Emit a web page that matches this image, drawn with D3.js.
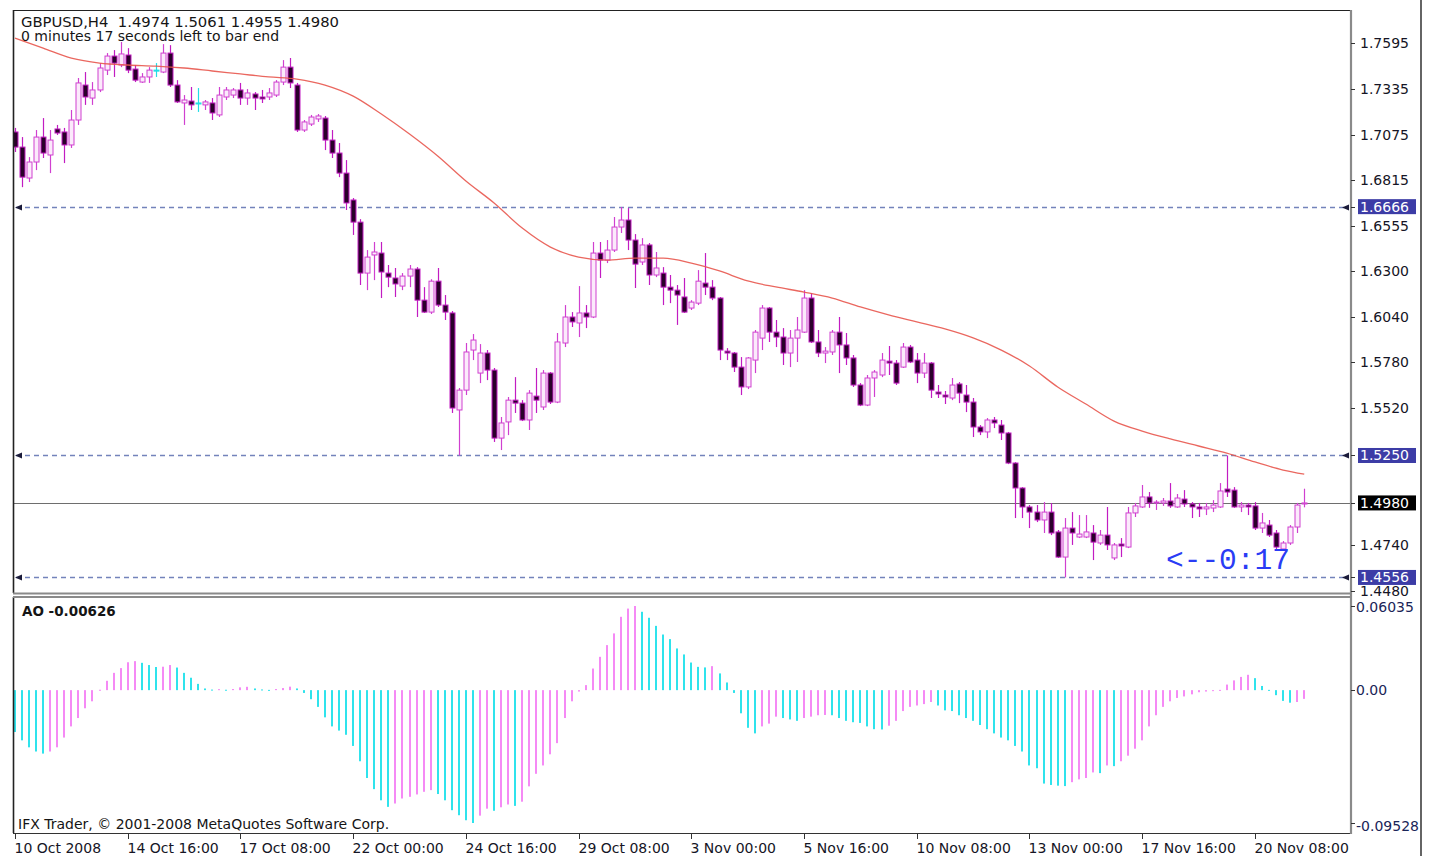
<!DOCTYPE html>
<html>
<head>
<meta charset="utf-8">
<script src="https://cdn.jsdelivr.net/npm/d3@7"></script>
<style>
  html, body { margin: 0; padding: 0; background: #ffffff; }
  svg { display: block; font-family: "DejaVu Sans", Verdana, sans-serif; }
</style>
</head>
<body>
<svg id="chart" width="1429" height="856"></svg>
<script>
// GBPUSD H4 candles, oldest first (10 Oct 2008 00:00 onwards)
const barOpen = [
1.7091,1.7005,1.6829,1.6920,1.7062,1.6960,1.7108,1.7091,1.7017,1.7159,
1.7358,1.7284,1.7330,1.7443,1.7523,1.7472,1.7529,1.7449,1.7375,1.7404,
1.7443,1.7432,1.7540,1.7358,1.7256,1.7267,1.7256,1.7245,1.7256,1.7188,
1.7290,1.7301,1.7330,1.7284,1.7307,1.7290,1.7290,1.7301,1.7375,1.7460,
1.7358,1.7102,1.7136,1.7165,1.7170,1.7045,1.6971,1.6857,1.6704,1.6578,
1.6288,1.6391,1.6402,1.6288,1.6260,1.6214,1.6271,1.6311,1.6134,1.6066,
1.6242,1.6106,1.6061,1.5509,1.5622,1.5850,1.5719,1.5833,1.5736,1.5349,
1.5441,1.5565,1.5548,1.5452,1.5588,1.5526,1.5719,1.5554,1.5890,1.6038,
1.6004,1.6061,1.6038,1.6402,1.6362,1.6419,1.6550,1.6590,1.6476,1.6351,
1.6448,1.6277,1.6288,1.6208,1.6191,1.6152,1.6089,1.6117,1.6231,1.6208,
1.6146,1.5844,1.5833,1.5753,1.5640,1.5793,1.5918,1.6089,1.5952,1.5924,
1.5833,1.5918,1.5952,1.6146,1.5896,1.5833,1.5839,1.5952,1.5879,1.5805,
1.5651,1.5537,1.5691,1.5708,1.5787,1.5776,1.5753,1.5867,1.5793,1.5719,
1.5776,1.5611,1.5594,1.5577,1.5657,1.5594,1.5554,1.5412,1.5384,1.5452,
1.5423,1.5378,1.5207,1.5065,1.4957,1.4928,1.4883,1.4928,1.4815,1.4672,
1.4837,1.4786,1.4786,1.4809,1.4752,1.4797,1.4667,1.4746,1.4729,1.4923,
1.4957,1.5014,1.4980,1.4980,1.4991,1.4957,1.5002,1.4974,1.4957,1.4946,
1.4951,1.4957,1.5059,1.5053,1.4957,1.4968,1.4963,1.4837,1.4854,1.4809,
1.4718,1.4752,1.4843,1.4974
];
const barHigh = [
1.7114,1.7062,1.6948,1.7102,1.7170,1.7102,1.7131,1.7114,1.7216,1.7398,
1.7432,1.7375,1.7483,1.7540,1.7557,1.7603,1.7568,1.7472,1.7426,1.7460,
1.7483,1.7591,1.7585,1.7386,1.7301,1.7347,1.7341,1.7273,1.7284,1.7347,
1.7347,1.7341,1.7370,1.7335,1.7318,1.7330,1.7341,1.7386,1.7500,1.7512,
1.7370,1.7159,1.7188,1.7193,1.7182,1.7102,1.7028,1.6931,1.6715,1.6595,
1.6419,1.6465,1.6465,1.6334,1.6317,1.6288,1.6334,1.6322,1.6208,1.6253,
1.6317,1.6163,1.6072,1.5634,1.5890,1.5941,1.5884,1.5850,1.5748,1.5469,
1.5583,1.5696,1.5565,1.5622,1.5748,1.5736,1.5725,1.5947,1.6106,1.6066,
1.6214,1.6106,1.6465,1.6465,1.6476,1.6607,1.6664,1.6658,1.6510,1.6487,
1.6459,1.6408,1.6322,1.6277,1.6220,1.6260,1.6134,1.6305,1.6402,1.6248,
1.6152,1.5861,1.5839,1.5810,1.5810,1.5964,1.6106,1.6095,1.6021,1.5975,
1.5964,1.6038,1.6191,1.6174,1.5964,1.5867,1.5964,1.6038,1.5947,1.5822,
1.5662,1.5708,1.5736,1.5833,1.5873,1.5793,1.5890,1.5879,1.5833,1.5833,
1.5782,1.5651,1.5617,1.5691,1.5668,1.5651,1.5577,1.5423,1.5463,1.5469,
1.5452,1.5384,1.5212,1.5070,1.4968,1.4968,1.4985,1.4979,1.4826,1.4894,
1.4928,1.4911,1.4911,1.4854,1.4826,1.4957,1.4752,1.4780,1.4957,1.4980,
1.5082,1.5042,1.4996,1.5008,1.5093,1.5031,1.5053,1.4985,1.4980,1.4980,
1.4996,1.5093,1.5250,1.5070,1.4985,1.4980,1.4985,1.4923,1.4883,1.4826,
1.4763,1.4854,1.4980,1.5061
];
const barLow = [
1.6977,1.6777,1.6806,1.6874,1.6943,1.6857,1.7074,1.6914,1.7000,1.7131,
1.7245,1.7245,1.7318,1.7415,1.7404,1.7460,1.7426,1.7375,1.7370,1.7370,
1.7404,1.7426,1.7347,1.7256,1.7131,1.7216,1.7205,1.7216,1.7159,1.7176,
1.7273,1.7284,1.7245,1.7245,1.7216,1.7256,1.7273,1.7290,1.7358,1.7341,
1.7091,1.7091,1.7125,1.7148,1.6988,1.6943,1.6834,1.6647,1.6505,1.6220,
1.6191,1.6248,1.6146,1.6208,1.6152,1.6191,1.6208,1.6038,1.6061,1.6055,
1.6095,1.6021,1.5492,1.5250,1.5594,1.5793,1.5662,1.5679,1.5327,1.5281,
1.5366,1.5492,1.5446,1.5395,1.5492,1.5509,1.5543,1.5548,1.5867,1.5981,
1.5924,1.5975,1.6032,1.6260,1.6345,1.6408,1.6516,1.6419,1.6203,1.6334,
1.6220,1.6265,1.6106,1.6117,1.5993,1.6061,1.6078,1.6106,1.6163,1.6134,
1.5793,1.5793,1.5725,1.5594,1.5628,1.5719,1.5850,1.5896,1.5867,1.5765,
1.5753,1.5782,1.5947,1.5890,1.5810,1.5776,1.5822,1.5719,1.5765,1.5640,
1.5531,1.5531,1.5583,1.5696,1.5708,1.5651,1.5748,1.5776,1.5662,1.5691,
1.5577,1.5577,1.5543,1.5565,1.5548,1.5497,1.5355,1.5366,1.5349,1.5406,
1.5338,1.5201,1.4894,1.4894,1.4837,1.4871,1.4809,1.4797,1.4667,1.4556,
1.4741,1.4780,1.4780,1.4655,1.4741,1.4712,1.4655,1.4672,1.4723,1.4900,
1.4952,1.4952,1.4940,1.4963,1.4952,1.4952,1.4957,1.4894,1.4900,1.4911,
1.4928,1.4952,1.5014,1.4952,1.4928,1.4911,1.4826,1.4809,1.4786,1.4712,
1.4712,1.4741,1.4809,1.4955
];
const barClose = [
1.7005,1.6834,1.6920,1.7062,1.6971,1.7045,1.7085,1.7017,1.7159,1.7370,
1.7290,1.7330,1.7455,1.7523,1.7483,1.7535,1.7443,1.7386,1.7404,1.7443,
1.7443,1.7540,1.7358,1.7262,1.7273,1.7245,1.7256,1.7262,1.7199,1.7301,
1.7330,1.7330,1.7284,1.7313,1.7284,1.7279,1.7313,1.7375,1.7460,1.7370,
1.7102,1.7148,1.7176,1.7182,1.7045,1.6971,1.6857,1.6687,1.6578,1.6288,
1.6379,1.6408,1.6294,1.6265,1.6226,1.6271,1.6311,1.6134,1.6066,1.6242,
1.6106,1.6066,1.5520,1.5622,1.5839,1.5907,1.5833,1.5736,1.5349,1.5435,
1.5565,1.5548,1.5452,1.5605,1.5565,1.5719,1.5554,1.5896,1.6038,1.6010,
1.6061,1.6038,1.6402,1.6362,1.6419,1.6550,1.6590,1.6476,1.6339,1.6448,
1.6277,1.6317,1.6208,1.6191,1.6163,1.6066,1.6123,1.6242,1.6208,1.6146,
1.5850,1.5833,1.5753,1.5640,1.5805,1.5952,1.6089,1.5952,1.5924,1.5833,
1.5918,1.5964,1.6146,1.5896,1.5833,1.5844,1.5952,1.5879,1.5805,1.5651,
1.5537,1.5691,1.5725,1.5793,1.5776,1.5662,1.5867,1.5782,1.5719,1.5776,
1.5622,1.5600,1.5583,1.5651,1.5605,1.5554,1.5412,1.5384,1.5452,1.5435,
1.5378,1.5207,1.5065,1.4957,1.4928,1.4883,1.4928,1.4809,1.4672,1.4837,
1.4809,1.4803,1.4815,1.4757,1.4797,1.4741,1.4741,1.4735,1.4923,1.4963,
1.5014,1.4980,1.4985,1.4991,1.4963,1.5008,1.4974,1.4957,1.4946,1.4957,
1.4968,1.5048,1.5042,1.4957,1.4968,1.4957,1.4837,1.4866,1.4797,1.4729,
1.4752,1.4843,1.4968,1.4980
];

// Awesome Oscillator, one value per bar
const aoValues = [
-0.0300,-0.0360,-0.0410,-0.0440,-0.0455,-0.0440,-0.0410,-0.0340,-0.0260,-0.0200,
-0.0130,-0.0080,0.0003,0.0067,0.0124,0.0158,0.0200,0.0208,0.0196,0.0180,
0.0166,0.0168,0.0180,0.0162,0.0124,0.0089,0.0045,0.0012,0.0004,0.0007,
0.0003,0.0008,0.0020,0.0024,0.0012,0.0005,0.0002,0.0008,0.0015,0.0025,
0.0012,-0.0020,-0.0065,-0.0120,-0.0195,-0.0260,-0.0290,-0.0320,-0.0400,-0.0510,
-0.0630,-0.0710,-0.0790,-0.0837,-0.0813,-0.0777,-0.0765,-0.0748,-0.0729,-0.0717,
-0.0745,-0.0790,-0.0861,-0.0897,-0.0933,-0.09528,-0.0900,-0.0850,-0.0865,-0.0840,
-0.0820,-0.0830,-0.0800,-0.0690,-0.0600,-0.0540,-0.0460,-0.0380,-0.0200,-0.0080,
-0.0010,0.0036,0.0155,0.0239,0.0323,0.0407,0.0526,0.0585,0.06035,0.0562,
0.0519,0.0461,0.0399,0.0366,0.0299,0.0256,0.0198,0.0167,0.0163,0.0172,
0.0120,0.0055,-0.0020,-0.0166,-0.0270,-0.0310,-0.0260,-0.0240,-0.0190,-0.0200,
-0.0210,-0.0220,-0.0200,-0.0190,-0.0180,-0.0178,-0.0180,-0.0200,-0.0220,-0.0230,
-0.0235,-0.0260,-0.0280,-0.0282,-0.0255,-0.0220,-0.0150,-0.0120,-0.0110,-0.0100,
-0.0085,-0.0110,-0.0145,-0.0150,-0.0180,-0.0200,-0.0220,-0.0250,-0.0280,-0.0310,
-0.0340,-0.0360,-0.0400,-0.0440,-0.0540,-0.0560,-0.0670,-0.0680,-0.0685,-0.0688,
-0.0660,-0.0640,-0.0630,-0.0590,-0.0595,-0.0540,-0.0545,-0.0510,-0.0470,-0.0420,
-0.0360,-0.0260,-0.0180,-0.0120,-0.0080,-0.0056,-0.0045,-0.0030,-0.0015,-0.0010,
-0.0005,0.0002,0.0040,0.0070,0.0095,0.0110,0.0086,0.0030,0.0002,-0.0036,
-0.0077,-0.0090,-0.0085,-0.00626
];

// Moving average, sampled at these bar numbers
const maBar = [0,4,8,12,16,20,24,28,32,36,40,44,48,52,56,60,64,68,72,76,80,84,88,92,96,100,
  104,108,112,116,120,124,128,132,136,140,144,148,152,156,160,164,168,172,176,180,183];
const maValue = [1.7625,1.7568,1.7511,1.7483,1.7472,1.7466,1.7455,1.7438,1.7421,1.7404,1.7392,
  1.7358,1.7295,1.7193,1.7079,1.6954,1.6812,1.6687,1.6544,1.6436,1.6379,1.6362,1.6373,1.6373,
  1.6345,1.6300,1.6243,1.6209,1.6180,1.6146,1.6095,1.6050,1.6010,1.5970,1.5919,1.5850,1.5759,
  1.5640,1.5543,1.5446,1.5389,1.5344,1.5304,1.5264,1.5213,1.5167,1.5144];

// Time axis labels every 16 bars
const timeTickBars = [0,16,32,48,64,80,96,112,128,144,160,176];
const timeTickLabels = ["10 Oct 2008","14 Oct 16:00","17 Oct 08:00","22 Oct 00:00","24 Oct 16:00",
  "29 Oct 08:00","3 Nov 00:00","5 Nov 16:00","10 Nov 08:00","13 Nov 00:00","17 Nov 16:00","20 Nov 08:00"];

// Price scale labels
const priceTicks = ["1.7595","1.7335","1.7075","1.6815","1.6555","1.6300","1.6040","1.5780","1.5520","1.4740","1.4480"];

// Horizontal levels
const levelPrices = [1.6666, 1.5250, 1.4556];
const bidPrice = 1.4980;

// AO scale labels
const aoTicks = ["0.06035","0.00","-0.09528"];

const svg = d3.select("#chart");
const W = 1429, H = 856;
const paneLeft = 13, axisX = 1351;
const mainTop = 10, mainBottom = 593;
const aoTop = 597, aoBottom = 833;

svg.append("rect").attr("width", W).attr("height", H).attr("fill", "#ffffff");

const x = d3.scaleLinear().domain([0, 183]).range([15, 15 + 7.045 * 183]);
const y = d3.scaleLinear().domain([1.4480, 1.7595]).range([590.8, 43.4]);
const yAo = d3.scaleLinear().domain([-0.09528, 0.06035]).range([823, 606]);

svg.append("clipPath").attr("id", "clipMain")
  .append("rect").attr("x", paneLeft + 1).attr("y", mainTop + 1)
  .attr("width", axisX - paneLeft - 2).attr("height", mainBottom - mainTop - 2);
svg.append("clipPath").attr("id", "clipAo")
  .append("rect").attr("x", paneLeft + 1).attr("y", aoTop + 1)
  .attr("width", axisX - paneLeft - 2).attr("height", aoBottom - aoTop - 2);

const main = svg.append("g").attr("clip-path", "url(#clipMain)");
const aoG = svg.append("g").attr("clip-path", "url(#clipAo)");

// Horizontal level lines (dashed) with end arrows
levelPrices.forEach(p => {
  const yy = Math.round(y(p)) + 0.5;
  main.append("line").attr("x1", 16).attr("x2", 1349).attr("y1", yy).attr("y2", yy)
    .attr("stroke", "#7383bb").attr("stroke-width", 1.6).attr("stroke-dasharray", "5,4");
});
levelPrices.forEach(p => {
  const yy = Math.round(y(p)) + 0.5;
  [15, 1342].forEach(ax => {
    svg.append("path").attr("d", `M${ax},${yy} L${ax + 7},${yy - 3} L${ax + 7},${yy + 3} Z`)
      .attr("fill", "#1b1b3a");
  });
});

// Bid line
const bidY = Math.round(y(bidPrice)) + 0.5;
main.append("line").attr("x1", paneLeft).attr("x2", axisX).attr("y1", bidY).attr("y2", bidY)
  .attr("stroke", "#6e6e6e").attr("stroke-width", 1.2);

// Candles
const bars = d3.range(barOpen.length).map(i => ({
  i, o: barOpen[i], h: barHigh[i], l: barLow[i], c: barClose[i]
}));
const bullStroke = "#d040d0", bearStroke = "#c21cc2", dojiStroke = "#22dde6";
const candle = main.selectAll("g.candle").data(bars).join("g").attr("class", "candle");
candle.append("line")
  .attr("x1", d => Math.round(x(d.i)) + 0.5).attr("x2", d => Math.round(x(d.i)) + 0.5)
  .attr("y1", d => y(d.h)).attr("y2", d => y(d.l))
  .attr("stroke", d => d.o === d.c ? dojiStroke : (d.c > d.o ? bullStroke : bearStroke))
  .attr("stroke-width", 1.2);
candle.append("rect")
  .attr("x", d => Math.round(x(d.i)) - 2)
  .attr("width", 5)
  .attr("y", d => Math.min(y(d.o), y(d.c)))
  .attr("height", d => Math.max(1, Math.abs(y(d.o) - y(d.c))))
  .attr("fill", d => d.o === d.c ? dojiStroke : (d.c > d.o ? "#fbeafb" : "#2a002a"))
  .attr("stroke", d => d.o === d.c ? dojiStroke : (d.c > d.o ? bullStroke : bearStroke))
  .attr("stroke-width", 1);

// Moving average
const maLine = d3.line().x((d, k) => x(maBar[k])).y(d => y(d)).curve(d3.curveMonotoneX);
main.append("path").attr("d", maLine(maValue)).attr("fill", "none")
  .attr("stroke", "#e8574e").attr("stroke-width", 1.3).attr("opacity", 0.9);

// Countdown text
svg.append("text").attr("x", 1166).attr("y", 569).text("<--0:17")
  .attr("font-family", "'Liberation Mono', 'DejaVu Sans Mono', monospace")
  .attr("font-size", 29.5).attr("fill", "#2a3cf5");

// AO histogram
const aoBars = aoValues.map((v, i) => ({ i, v, up: i > 0 && v > aoValues[i - 1] }));
aoG.selectAll("rect.ao").data(aoBars).join("rect").attr("class", "ao")
  .attr("x", d => Math.round(x(d.i)) - 1).attr("width", 2)
  .attr("y", d => Math.min(yAo(d.v), yAo(0)))
  .attr("height", d => Math.max(1, Math.abs(yAo(d.v) - yAo(0))))
  .attr("fill", d => d.up ? "#f58af5" : "#2fe3ec");

// Frames
const frame = svg.append("g");
frame.append("line").attr("x1", paneLeft).attr("x2", axisX).attr("y1", mainTop + 0.5).attr("y2", mainTop + 0.5)
  .attr("stroke", "#222").attr("stroke-width", 1.2);
frame.append("line").attr("x1", paneLeft + 0.5).attr("x2", paneLeft + 0.5).attr("y1", mainTop).attr("y2", mainBottom)
  .attr("stroke", "#222").attr("stroke-width", 1.6);
frame.append("line").attr("x1", paneLeft + 0.5).attr("x2", paneLeft + 0.5).attr("y1", aoTop).attr("y2", aoBottom)
  .attr("stroke", "#222").attr("stroke-width", 1.6);
frame.append("line").attr("x1", paneLeft).attr("x2", axisX + 1).attr("y1", mainBottom + 0.5).attr("y2", mainBottom + 0.5)
  .attr("stroke", "#8a8a8a").attr("stroke-width", 2);
frame.append("line").attr("x1", paneLeft).attr("x2", axisX + 1).attr("y1", aoTop).attr("y2", aoTop)
  .attr("stroke", "#8a8a8a").attr("stroke-width", 2);
frame.append("line").attr("x1", paneLeft).attr("x2", axisX + 1).attr("y1", aoBottom + 0.5).attr("y2", aoBottom + 0.5)
  .attr("stroke", "#333").attr("stroke-width", 1.2);
frame.append("line").attr("x1", axisX).attr("x2", axisX).attr("y1", mainTop).attr("y2", aoBottom + 1)
  .attr("stroke", "#8a8a8a").attr("stroke-width", 2.2);
svg.append("line").attr("x1", 1421).attr("x2", 1421).attr("y1", 0).attr("y2", H)
  .attr("stroke", "#111").attr("stroke-width", 1.3);

// Price axis
const pa = svg.append("g");
priceTicks.forEach(t => {
  const yy = y(+t);
  pa.append("line").attr("x1", axisX).attr("x2", axisX + 4).attr("y1", Math.round(yy) + 0.5).attr("y2", Math.round(yy) + 0.5)
    .attr("stroke", "#333");
  pa.append("text").attr("x", 1360).attr("y", yy + 5).text(t)
    .attr("font-size", 14).attr("fill", "#151525");
});

// Level labels
function priceBox(p, bg) {
  const yy = y(p);
  pa.append("line").attr("x1", axisX).attr("x2", axisX + 4).attr("y1", Math.round(yy) + 0.5).attr("y2", Math.round(yy) + 0.5)
    .attr("stroke", "#333");
  pa.append("rect").attr("x", 1358).attr("y", yy - 7.5).attr("width", 58).attr("height", 15).attr("fill", bg);
  pa.append("text").attr("x", 1360).attr("y", yy + 5).text(p.toFixed(4))
    .attr("font-size", 14).attr("fill", "#ffffff");
}
levelPrices.forEach(p => priceBox(p, "#3c3ca6"));
priceBox(bidPrice, "#000000");

// AO axis
aoTicks.forEach(t => {
  const v = +t;
  const yy = yAo(v);
  const ly = v > 0 ? 611.5 : (v < 0 ? 831 : yy + 5);
  pa.append("line").attr("x1", axisX).attr("x2", axisX + 4).attr("y1", Math.round(yy) + 0.5).attr("y2", Math.round(yy) + 0.5)
    .attr("stroke", "#333");
  pa.append("text").attr("x", 1356).attr("y", ly).text(t)
    .attr("font-size", 14).attr("fill", "#1a2558");
});

// Time axis
const ta = svg.append("g");
timeTickBars.forEach((b, k) => {
  const xx = Math.round(x(b)) + 0.5;
  ta.append("line").attr("x1", xx).attr("x2", xx).attr("y1", aoBottom).attr("y2", aoBottom + 6)
    .attr("stroke", "#333");
  ta.append("text").attr("x", xx - 1).attr("y", 853).text(timeTickLabels[k])
    .attr("font-size", 14).attr("fill", "#151525");
});

// Titles
svg.append("text").attr("x", 21).attr("y", 26.5).attr("xml:space", "preserve")
  .style("white-space", "pre")
  .text("GBPUSD,H4  1.4974 1.5061 1.4955 1.4980")
  .attr("font-size", 14.8).attr("fill", "#151515");
svg.append("text").attr("x", 21).attr("y", 40.5)
  .text("0 minutes 17 seconds left to bar end")
  .attr("font-size", 14).attr("fill", "#151515");
svg.append("text").attr("x", 22).attr("y", 616)
  .text("AO -0.00626")
  .attr("font-size", 13.5).attr("font-weight", "bold").attr("fill", "#151515");
svg.append("text").attr("x", 18).attr("y", 829)
  .text("IFX Trader, © 2001-2008 MetaQuotes Software Corp.")
  .attr("font-size", 14).attr("fill", "#151515");
</script>
</body>
</html>
